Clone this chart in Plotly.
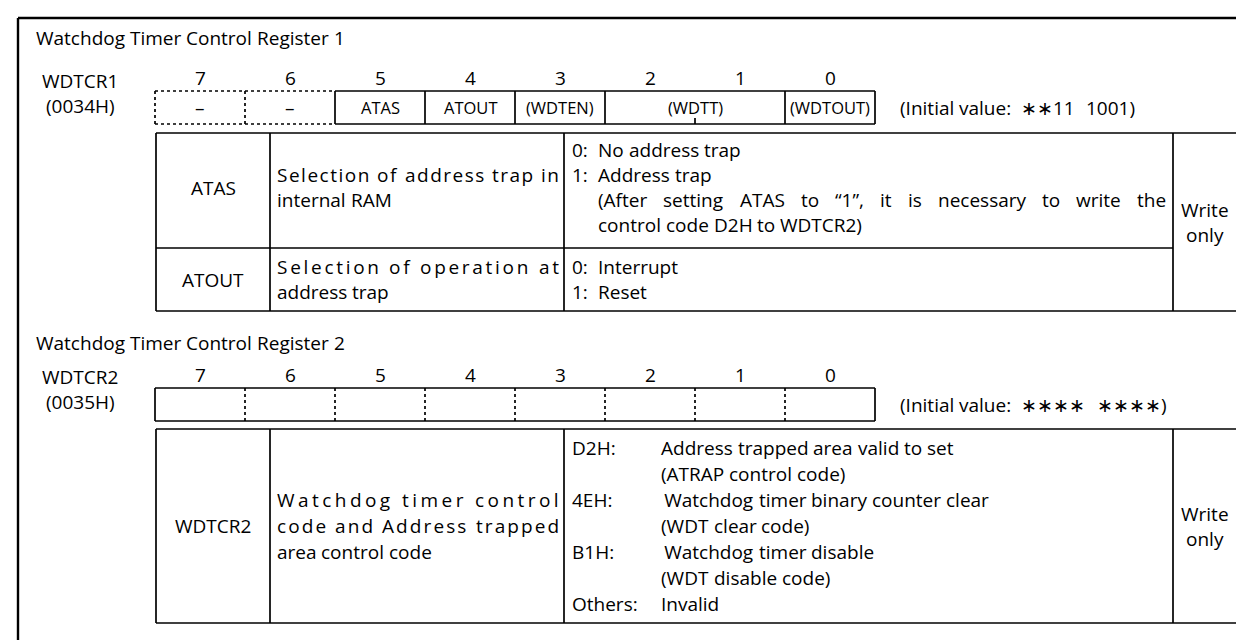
import glob
import struct
import plotly.graph_objects as go

# ---------------- data ----------------
bit_labels = ["7", "6", "5", "4", "3", "2", "1", "0"]

title1 = "Watchdog Timer Control Register 1"
reg1_name = "WDTCR1"
reg1_addr = "(0034H)"
reg1_fields = ["\u2013", "\u2013", "ATAS", "ATOUT", "(WDTEN)", "(WDTT)", "(WDTOUT)"]
reg1_spans = [1, 1, 1, 1, 1, 2, 1]
reg1_dotted = [True, True, False, False, False, False, False]
reg1_init = "(Initial value:  \u2217\u221711  1001)"

title2 = "Watchdog Timer Control Register 2"
reg2_name = "WDTCR2"
reg2_addr = "(0035H)"
reg2_init = "(Initial value:  \u2217\u2217\u2217\u2217  \u2217\u2217\u2217\u2217)"

t1_names = ["ATAS", "ATOUT"]
t1_desc = [["Selection of address trap in", "internal RAM"],
           ["Selection of operation at", "address trap"]]
t1_codes = [["0:", "1:", "", ""], ["0:", "1:"]]
t1_texts = [["No address trap", "Address trap",
             "(After setting ATAS to \u201c1\u201d, it is necessary to write the",
             "control code D2H to WDTCR2)"],
            ["Interrupt", "Reset"]]
t1_justify = [[False, False, True, False], [False, False]]
access = ["Write", "only"]

t2_name = "WDTCR2"
t2_desc = ["Watchdog timer control", "code and Address trapped", "area control code"]
t2_codes = ["D2H:", "", "4EH:", "", "B1H:", "", "Others:"]
t2_texts = ["Address trapped area valid to set", "(ATRAP control code)",
            "\u2009Watchdog timer binary counter clear", "(WDT clear code)",
            "\u2009Watchdog timer disable", "(WDT disable code)", "Invalid"]

# ---------------- style ----------------
FONT = "Open Sans"
FS = 19
FS_FIELD = 16.5
FS_BIT = 19
LW = 1.7
INK = "#000000"
STAR_EM = 0.86   # rendered width of the asterisk operator (fallback font)


# ---------------- text measuring (glyph advances of the installed font) ----------------
def ttf_advance(path):
    data = open(path, "rb").read()
    ntab = struct.unpack(">H", data[4:6])[0]
    tabs = {}
    for i in range(ntab):
        tag, _, off, ln = struct.unpack(">4sIII", data[12 + 16 * i:28 + 16 * i])
        tabs[tag.decode("latin1")] = off
    upem = struct.unpack(">H", data[tabs["head"] + 18:tabs["head"] + 20])[0]
    nhm = struct.unpack(">H", data[tabs["hhea"] + 34:tabs["hhea"] + 36])[0]
    ho = tabs["hmtx"]
    adv = [struct.unpack(">H", data[ho + 4 * i:ho + 4 * i + 2])[0] for i in range(nhm)]
    co = tabs["cmap"]
    n = struct.unpack(">H", data[co + 2:co + 4])[0]
    sub = None
    for i in range(n):
        pid, eid, so = struct.unpack(">HHI", data[co + 4 + 8 * i:co + 12 + 8 * i])
        fmt = struct.unpack(">H", data[co + so:co + so + 2])[0]
        if fmt == 4 and (pid, eid) in ((3, 1), (0, 3), (0, 4), (0, 1), (0, 0)):
            sub = co + so
    segx2 = struct.unpack(">H", data[sub + 6:sub + 8])[0]
    seg = segx2 // 2
    ends = struct.unpack(">%dH" % seg, data[sub + 14:sub + 14 + segx2])
    starts = struct.unpack(">%dH" % seg, data[sub + 16 + segx2:sub + 16 + 2 * segx2])
    deltas = struct.unpack(">%dh" % seg, data[sub + 16 + 2 * segx2:sub + 16 + 3 * segx2])
    rpos = sub + 16 + 3 * segx2
    roffs = struct.unpack(">%dH" % seg, data[rpos:rpos + segx2])

    def gid(cp):
        for i in range(seg):
            if starts[i] <= cp <= ends[i]:
                if roffs[i] == 0:
                    return (cp + deltas[i]) & 0xFFFF
                a = rpos + 2 * i + roffs[i] + 2 * (cp - starts[i])
                g = struct.unpack(">H", data[a:a + 2])[0]
                return (g + deltas[i]) & 0xFFFF if g else 0
        return 0

    def w(s, size):
        tot = 0.0
        for ch in s:
            if ch == "\u2217":
                tot += STAR_EM * upem
                continue
            g = gid(ord(ch))
            if g == 0:
                tot += 0.75 * upem
            else:
                tot += adv[g] if g < nhm else adv[-1]
        return tot / upem * size
    w("abc", 10)
    return w


def make_measure():
    cands = sorted(glob.glob("/usr/share/fonts/**/*OpenSans*.[tT][tT][fF]", recursive=True) +
                   glob.glob("/usr/local/share/fonts/**/*OpenSans*.[tT][tT][fF]", recursive=True),
                   key=lambda p: (0 if "Regular" in p else (1 if "[" in p else 2), len(p)))
    cands = [p for p in cands if "Italic" not in p and "Bold" not in p and "Light" not in p
             and "Semi" not in p and "Condensed" not in p and "Extra" not in p]
    for p in cands:
        try:
            return ttf_advance(p)
        except Exception:
            pass
    widths = {}
    for c in "ilI.,:;'|! ": widths[c] = 0.27
    for c in "frt()[]-\u2009": widths[c] = 0.36
    for c in "szcJ\"\u201c\u201d": widths[c] = 0.48
    for c in "mMW": widths[c] = 0.92
    for c in "ABCDGHKNOQRUVXY": widths[c] = 0.70
    widths["\u2217"] = STAR_EM

    def m(s, size):
        return sum(widths.get(c, 0.56 if c.islower() or c.isdigit() else 0.62) for c in s) * size
    return m


measure = make_measure()

fig = go.Figure()
shapes = []
annots = []


def line(x0, y0, x1, y1, w=LW, dash=None):
    d = dict(type="line", x0=x0, y0=y0, x1=x1, y1=y1, xref="x", yref="y",
             line=dict(color=INK, width=w))
    if dash:
        d["line"]["dash"] = dash
    shapes.append(d)


def text(x, y, s, anchor="left", size=FS):
    annots.append(dict(x=x, y=y, xref="x", yref="y", text=s, showarrow=False,
                       xanchor=anchor, yanchor="middle", borderpad=0,
                       font=dict(family=FONT, size=size, color=INK)))


def words(x, y, s, size=FS):
    """Left-aligned line, one text per word (runs of spaces keep their width)."""
    sp = measure(" ", size)
    i = 0
    while i < len(s):
        if s[i] == " ":
            x += sp
            i += 1
            continue
        j = s.find(" ", i)
        j = len(s) if j < 0 else j
        wd = s[i:j]
        text(x, y, wd, size=size)
        x += measure(wd, size)
        i = j


def justified_words(xl, xr, y, s):
    ws_ = s.split(" ")
    ws = [measure(w, FS) for w in ws_]
    gap = (xr - xl - sum(ws)) / (len(ws_) - 1)
    x = xl
    for w, wd in zip(ws_, ws):
        text(x, y, w)
        x += wd + gap


def justified_letters(xl, xr, y, s, word_gap_weight=2.0):
    # full-width line: extra room goes into letter gaps and (more) into word gaps;
    # each word is its own text, letters spread with CSS letter-spacing
    ws_ = s.split(" ")
    nat = sum(measure(w, FS) for w in ws_) + measure(" ", FS) * (len(ws_) - 1)
    n_letter_gaps = sum(len(w) - 1 for w in ws_)
    n_word_gaps = len(ws_) - 1
    ls = max((xr - xl - nat) / (n_letter_gaps + word_gap_weight * n_word_gaps), 0.0)
    x = xl
    for w in ws_:
        text(x, y, '<span style="letter-spacing:%.2fpx">%s</span>' % (ls, w))
        x += measure(w, FS) + ls * (len(w) - 1) + measure(" ", FS) + ls * word_gap_weight


# outer frame (top and left only)
line(10, 10, 1244, 10, w=2.4)
line(10, 10, 10, 640, w=2.4)

X0, BW = 147, 90
TX = [148, 262, 556, 1165, 1229]
RS1 = 25     # row step, table 1
RS2 = 26     # row step, table 2

# ---- register 1 ----
words(27, 30, title1)
text(72, 73, reg1_name, "center")
text(72, 98, reg1_addr, "center")
B1T, B1B = 83, 116
for i, b in enumerate(bit_labels):
    text(X0 + BW * i + BW / 2, 70, b, "center", size=FS_BIT)
xi = X0
for fld, sp, dot in zip(reg1_fields, reg1_spans, reg1_dotted):
    xe = xi + sp * BW
    dash = "dot" if dot else None
    line(xi, B1T, xe, B1T, dash=dash)
    line(xi, B1B, xe, B1B, dash=dash)
    line(xi, B1T, xi, B1B, dash=dash)
    text((xi + xe) / 2, (B1T + B1B) / 2, fld, "center",
         size=FS if fld == "\u2013" else FS_FIELD)
    if sp == 2:
        line(xi + BW, B1B, xi + BW, B1B - 6)
    xi = xe
line(xi, B1T, xi, B1B)
words(891, (B1T + B1B) / 2, reg1_init)

# ---- table 1 ----
T1 = [125, 240, 303]
for y in T1:
    line(TX[0], y, TX[3] if y == T1[1] else TX[4], y)
for x in TX:
    line(x, T1[0], x, T1[2])
row_ys = [[142 + RS1 * j for j in range(4)], [259 + RS1 * j for j in range(2)]]
for k in range(2):
    ys = row_ys[k]
    if k == 0:
        mid_y, dy = (ys[1] + ys[2]) / 2, ys[1]
    else:
        mid_y, dy = (ys[0] + ys[1]) / 2, ys[0]
    text((TX[0] + TX[1]) / 2, mid_y, t1_names[k], "center")
    justified_letters(TX[1] + 6, TX[2] - 6, dy, t1_desc[k][0])
    words(TX[1] + 6, dy + RS1, t1_desc[k][1])
    for j, y in enumerate(ys):
        if t1_codes[k][j]:
            text(TX[2] + 7, y, t1_codes[k][j])
        if t1_justify[k][j]:
            justified_words(TX[2] + 33, TX[3] - 8, y, t1_texts[k][j])
        else:
            words(TX[2] + 33, y, t1_texts[k][j])
am1 = (T1[0] + T1[2]) / 2
text((TX[3] + TX[4]) / 2, am1 - 12.5, access[0], "center")
text((TX[3] + TX[4]) / 2, am1 + 12.5, access[1], "center")

# ---- register 2 ----
words(27, 335, title2)
text(72, 369, reg2_name, "center")
text(72, 394, reg2_addr, "center")
B2T, B2B = 380, 413
for i, b in enumerate(bit_labels):
    text(X0 + BW * i + BW / 2, 367, b, "center", size=FS_BIT)
line(X0, B2T, X0 + 8 * BW, B2T)
line(X0, B2B, X0 + 8 * BW, B2B)
line(X0, B2T, X0, B2B)
line(X0 + 8 * BW, B2T, X0 + 8 * BW, B2B)
for i in range(1, 8):
    line(X0 + BW * i, B2T, X0 + BW * i, B2B, dash="dot")
words(891, (B2T + B2B) / 2, reg2_init)

# ---- table 2 ----
T2 = [421, 615]
for y in T2:
    line(TX[0], y, TX[4], y)
for x in TX:
    line(x, T2[0], x, T2[1])
ys2 = [440 + RS2 * k for k in range(7)]
text((TX[0] + TX[1]) / 2, ys2[3], t2_name, "center")
justified_letters(TX[1] + 6, TX[2] - 6, ys2[2], t2_desc[0])
justified_letters(TX[1] + 6, TX[2] - 6, ys2[3], t2_desc[1])
words(TX[1] + 6, ys2[4], t2_desc[2])
for y, c, t in zip(ys2, t2_codes, t2_texts):
    if c:
        text(TX[2] + 7, y, c)
    words(TX[2] + 96, y, t)
am2 = (T2[0] + T2[1]) / 2
text((TX[3] + TX[4]) / 2, am2 - 12.5, access[0], "center")
text((TX[3] + TX[4]) / 2, am2 + 12.5, access[1], "center")

fig.update_layout(
    width=1244, height=640,
    margin=dict(l=0, r=0, t=0, b=0),
    paper_bgcolor="white", plot_bgcolor="white",
    xaxis=dict(range=[0, 1244], visible=False, fixedrange=True),
    yaxis=dict(range=[640, 0], visible=False, fixedrange=True),
    shapes=shapes, annotations=annots, showlegend=False,
)
fig.write_html("out.html", config={"displayModeBar": False})
